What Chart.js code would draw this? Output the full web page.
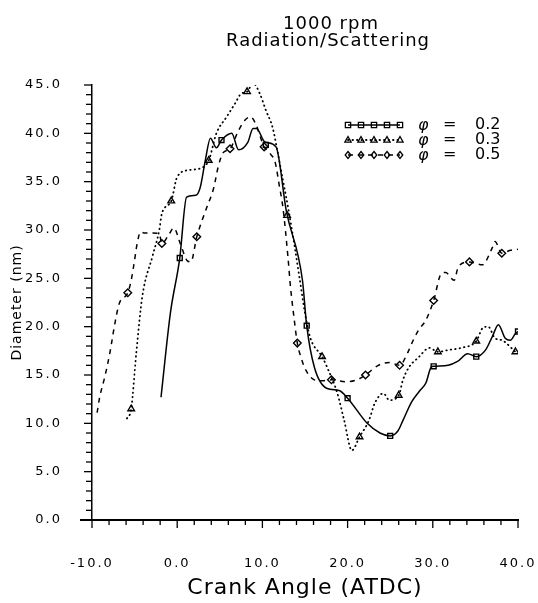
<!DOCTYPE html>
<html>
<head>
<meta charset="utf-8">
<script src="https://cdn.jsdelivr.net/npm/chart.js@4.4.1/dist/chart.umd.min.js"></script>
<style>
  html, body { margin: 0; padding: 0; background: #fff; }
  #wrap { width: 538px; height: 603px; }
</style>
</head>
<body>
<div id="wrap"><canvas id="diamChart" width="538" height="603"></canvas></div>
<script>
// Title / legend text
const titleLines = ['1000 rpm', 'Radiation/Scattering'];
const phiLabels = ['0.2', '0.3', '0.5'];

// Axis ranges and ticks
const angleMin = -10, angleMax = 40, angleStep = 10, angleMinorStep = 2;
const diamMin = 0, diamMax = 45, diamStep = 5, diamMinorStep = 1;

// phi = 0.2 (solid line, squares)
const phi02Angle = [-1.9, -0.8, 0.3, 1.1, 2.2, 2.7, 3.3, 3.9, 4.6, 5.2, 6.4, 7.2, 8.3, 8.9, 9.3, 10.3, 11.6, 12.8, 14.7, 15.2, 16.1, 17.6, 19.0, 20.0, 22.3, 23.8, 25.0, 25.9, 26.5, 27.5, 28.4, 29.2, 29.8, 30.1, 31.8, 32.9, 34.1, 35.1, 36.2, 37.0, 37.7, 38.5, 39.1, 39.7, 40.0];
const phi02Diam  = [12.7, 21.4, 27.1, 33.4, 33.6, 34.4, 37.2, 39.5, 38.5, 39.3, 40.0, 38.3, 39.1, 40.5, 40.5, 39.1, 38.6, 32.0, 24.8, 20.1, 15.8, 13.6, 13.4, 12.6, 10.0, 9.0, 8.7, 9.2, 10.3, 12.2, 13.3, 14.2, 15.8, 15.9, 16.0, 16.4, 17.2, 16.9, 17.6, 19.0, 20.2, 18.8, 18.6, 19.3, 19.5];
const phi02MarkAngle = [0.3, 5.2, 10.4, 15.2, 20.0, 25.0, 30.1, 35.1, 40.0];
const phi02MarkDiam  = [27.1, 39.3, 38.8, 20.1, 12.6, 8.7, 15.9, 16.9, 19.5];

// phi = 0.3 (dotted line, triangles)
const phi03Angle = [-5.9, -5.4, -4.8, -4.1, -2.9, -2.1, -1.8, -0.7, 0.0, 1.4, 2.8, 3.7, 4.6, 5.8, 6.8, 7.5, 8.2, 8.9, 9.7, 10.4, 11.2, 11.8, 12.4, 13.0, 13.8, 14.4, 15.0, 15.6, 17.0, 17.6, 18.8, 19.6, 20.5, 21.4, 22.5, 23.2, 24.2, 24.9, 26.0, 26.5, 27.2, 28.3, 29.6, 30.6, 31.9, 33.3, 35.1, 35.9, 36.5, 37.3, 38.1, 39.7];
const phi03Diam  = [10.5, 11.5, 17.3, 23.1, 27.3, 30.0, 31.7, 33.0, 35.5, 36.2, 36.4, 37.2, 40.0, 41.7, 43.1, 44.1, 44.3, 45.2, 44.1, 42.4, 40.6, 38.0, 35.2, 32.4, 28.2, 24.8, 21.4, 18.9, 16.9, 15.8, 13.1, 10.3, 7.2, 8.6, 10.3, 12.1, 13.1, 12.4, 12.9, 14.5, 15.8, 16.8, 17.8, 17.4, 17.6, 17.8, 18.5, 19.9, 20.0, 18.8, 18.6, 17.4];
const phi03MarkAngle = [-5.4, -0.7, 3.7, 8.2, 12.9, 17.0, 21.4, 26.0, 30.6, 35.1, 39.7];
const phi03MarkDiam  = [11.5, 33.0, 37.2, 44.3, 31.5, 16.9, 8.6, 12.9, 17.4, 18.5, 17.4];

// phi = 0.5 (dashed line, diamonds)
const phi05Angle = [-9.4, -9.1, -8.5, -7.9, -7.3, -6.8, -5.8, -5.4, -5.0, -4.7, -4.3, -3.9, -2.9, -2.1, -1.8, -1.0, -0.4, 0.4, 1.2, 1.6, 2.3, 2.8, 3.5, 4.3, 4.8, 5.4, 6.2, 7.2, 8.0, 8.6, 9.2, 10.2, 11.0, 11.5, 12.0, 12.4, 13.0, 13.3, 13.7, 14.1, 14.5, 15.1, 16.1, 17.0, 18.1, 19.9, 21.1, 22.1, 23.6, 24.9, 26.1, 27.1, 27.7, 28.3, 29.2, 30.1, 31.0, 31.5, 32.5, 33.0, 34.3, 35.8, 37.0, 37.3, 38.1, 39.1, 40.0];
const phi05Diam  = [11.1, 12.7, 14.8, 17.3, 20.4, 22.4, 23.5, 24.8, 26.9, 28.6, 29.8, 29.7, 29.7, 29.6, 28.6, 29.5, 30.2, 28.5, 26.8, 26.7, 29.3, 30.7, 32.4, 34.4, 36.5, 38.0, 38.4, 40.3, 41.4, 41.7, 41.0, 38.6, 37.8, 37.0, 34.5, 32.4, 27.2, 24.1, 21.0, 18.3, 16.9, 15.5, 14.5, 14.4, 14.5, 14.3, 14.5, 15.0, 16.0, 16.3, 16.0, 17.4, 18.6, 19.6, 20.7, 22.7, 25.5, 25.6, 24.8, 26.2, 26.7, 26.4, 28.2, 28.8, 27.6, 27.9, 28.0];
const phi05MarkAngle = [-5.8, -1.8, 2.3, 6.2, 10.2, 14.1, 18.1, 22.1, 26.1, 30.1, 34.3, 38.1];
const phi05MarkDiam  = [23.5, 28.6, 29.3, 38.4, 38.6, 18.3, 14.5, 15.0, 16.0, 22.7, 26.7, 27.6];

const FONT = "'DejaVu Sans', 'Liberation Sans', sans-serif";

function toPoints(xs, ys) {
    return xs.map((x, i) => ({ x: x, y: ys[i] }));
}

// line styles per series
const seriesStyles = [
    { dash: [], width: 1.5, cap: 'butt', marker: 'rect' },
    { dash: [0.5, 4], width: 1.8, cap: 'round', marker: 'triangle' },
    { dash: [5, 5], width: 1.5, cap: 'butt', marker: 'rectRot' }
];

const lineSets = [
    toPoints(phi02Angle, phi02Diam),
    toPoints(phi03Angle, phi03Diam),
    toPoints(phi05Angle, phi05Diam)
];
const markSets = [
    toPoints(phi02MarkAngle, phi02MarkDiam),
    toPoints(phi03MarkAngle, phi03MarkDiam),
    toPoints(phi05MarkAngle, phi05MarkDiam)
];

const datasets = [];
lineSets.forEach((pts, i) => {
    const st = seriesStyles[i];
    datasets.push({
        label: 'phi ' + phiLabels[i],
        data: pts,
        showLine: true,
        borderColor: '#000',
        borderWidth: st.width,
        borderDash: st.dash,
        borderCapStyle: st.cap,
        cubicInterpolationMode: 'monotone',
        pointRadius: 0,
        fill: false
    });
});
markSets.forEach((pts, i) => {
    const st = seriesStyles[i];
    datasets.push({
        label: 'markers ' + phiLabels[i],
        data: pts,
        showLine: false,
        pointStyle: st.marker,
        pointRadius: st.marker === 'rect' ? 3.5 : 3.8,
        pointBorderWidth: 1.4,
        pointBorderColor: '#000',
        pointBackgroundColor: 'rgba(255,255,255,0)'
    });
});

// small marker shapes for the legend
function drawMarker(ctx, type, x, y, r) {
    ctx.beginPath();
    if (type === 'rect') {
        ctx.rect(x - r * 0.75, y - r * 0.75, r * 1.5, r * 1.5);
    } else if (type === 'triangle') {
        ctx.moveTo(x, y - r);
        ctx.lineTo(x + r * 0.9, y + r * 0.6);
        ctx.lineTo(x - r * 0.9, y + r * 0.6);
        ctx.closePath();
    } else {
        ctx.moveTo(x, y - r);
        ctx.lineTo(x + r * 0.8, y);
        ctx.lineTo(x, y + r);
        ctx.lineTo(x - r * 0.8, y);
        ctx.closePath();
    }
    ctx.stroke();
}

const extras = {
    id: 'extras',
    // wide lettering like the original plotter font
    beforeDraw(chart) { chart.ctx.letterSpacing = '1px'; },
    beforeDatasetsDraw(chart) { chart.ctx.letterSpacing = '0px'; },
    afterDatasetsDraw(chart) { chart.ctx.letterSpacing = '2px'; },
    afterDraw(chart) {
        const ctx = chart.ctx;
        ctx.letterSpacing = '0px';
        const xs = chart.scales.x;
        const ys = chart.scales.y;
        ctx.save();
        ctx.strokeStyle = '#000';
        ctx.fillStyle = '#000';

        // minor + major ticks
        ctx.lineWidth = 1.3;
        for (let v = angleMin; v <= angleMax; v += angleMinorStep) {
            const px = xs.getPixelForValue(v);
            const len = v % angleStep === 0 ? 8 : 5;
            ctx.beginPath();
            ctx.moveTo(px, ys.bottom);
            ctx.lineTo(px, ys.bottom + len);
            ctx.stroke();
        }
        for (let v = diamMin; v <= diamMax; v += diamMinorStep) {
            const py = ys.getPixelForValue(v);
            const len = v % diamStep === 0 ? 8 : 6;
            ctx.beginPath();
            ctx.moveTo(xs.left, py);
            ctx.lineTo(xs.left - len, py);
            ctx.stroke();
        }
        // x axis line sticks out a little to the left
        ctx.lineWidth = 2;
        ctx.beginPath();
        ctx.moveTo(xs.left - 12, ys.bottom);
        ctx.lineTo(xs.left, ys.bottom);
        ctx.stroke();

        // title
        ctx.font = '18px ' + FONT;
        ctx.textAlign = 'center';
        ctx.textBaseline = 'middle';
        ctx.letterSpacing = '1px';
        const cx = 328;
        ctx.fillText(titleLines[0], cx + 3, 24);
        ctx.fillText(titleLines[1], cx, 41);
        ctx.letterSpacing = '0px';

        // legend
        const rowY = [125, 140, 155];
        const sx0 = 348, sx1 = 400;
        seriesStyles.forEach((st, i) => {
            const y = rowY[i];
            ctx.lineWidth = st.width;
            ctx.setLineDash(st.dash);
            ctx.lineCap = st.cap;
            ctx.beginPath();
            ctx.moveTo(sx0, y);
            ctx.lineTo(sx1, y);
            ctx.stroke();
            ctx.setLineDash([]);
            ctx.lineCap = 'butt';
            ctx.lineWidth = 1.3;
            for (let k = 0; k < 5; k++) {
                drawMarker(ctx, st.marker, sx0 + k * (sx1 - sx0) / 4, y, 3.5);
            }
            ctx.font = 'italic 16px ' + FONT;
            ctx.textAlign = 'left';
            ctx.fillText('\u03C6', 418, y + 1);
            ctx.font = '16px ' + FONT;
            ctx.fillText('=', 443, y);
            ctx.fillText(phiLabels[i], 475, y);
        });
        ctx.restore();
    }
};

new Chart(document.getElementById('diamChart'), {
    type: 'scatter',
    data: { datasets: datasets },
    options: {
        responsive: false,
        animation: false,
        events: [],
        layout: { padding: { top: 85, right: 0, left: 0, bottom: 0 } },
        plugins: {
            legend: { display: false },
            tooltip: { enabled: false },
            title: { display: false }
        },
        scales: {
            x: {
                type: 'linear',
                min: angleMin,
                max: angleMax,
                afterFit: function(scale) {
                    scale.height = 83;
                    scale.paddingLeft = 0;
                    scale.paddingRight = 20;
                },
                grid: { display: false },
                border: { display: true, color: '#000', width: 2 },
                ticks: {
                    z: 1,
                    stepSize: angleStep,
                    padding: 28,
                    color: '#000',
                    font: { family: FONT, size: 13 },
                    maxRotation: 0,
                    callback: v => v.toFixed(1)
                },
                title: {
                    display: true,
                    text: 'Crank Angle (ATDC)',
                    color: '#000',
                    font: { family: FONT, size: 22 },
                    padding: { top: 0, bottom: 2 }
                }
            },
            y: {
                min: diamMin,
                max: diamMax,
                afterFit: function(scale) { scale.width = 92; },
                grid: { display: false },
                border: { display: true, color: '#000', width: 1.5 },
                ticks: {
                    z: 1,
                    stepSize: diamStep,
                    padding: 22,
                    color: '#000',
                    font: { family: FONT, size: 13 },
                    callback: v => v.toFixed(1)
                },
                title: {
                    display: true,
                    text: 'Diameter (nm)',
                    color: '#000',
                    font: { family: FONT, size: 14 },
                    padding: { top: 9, bottom: 0 }
                }
            }
        }
    },
    plugins: [extras]
});
</script>
</body>
</html>
